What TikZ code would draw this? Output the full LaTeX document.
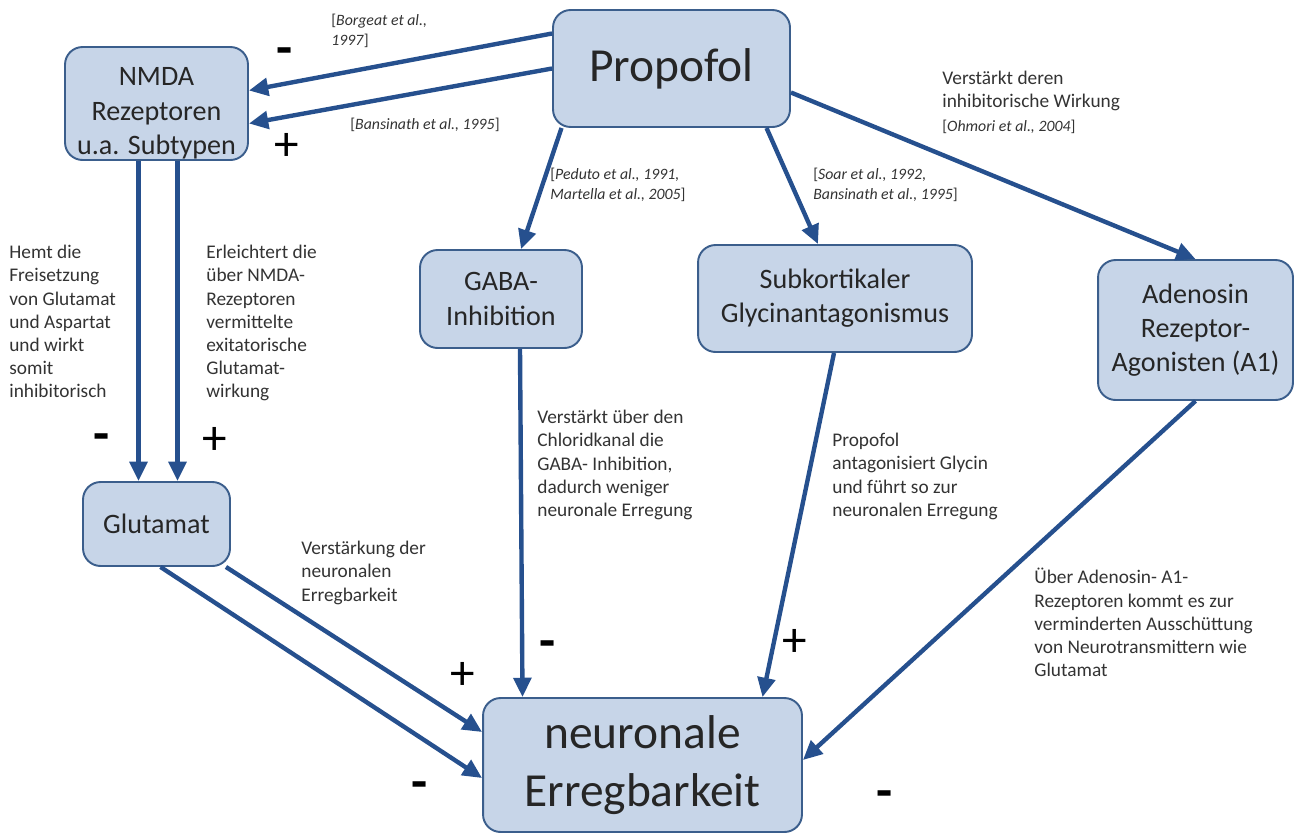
\documentclass[tikz,border=0pt]{standalone}
\usepackage{fontspec}
\setmainfont{Carlito}
\usetikzlibrary{positioning, arrows.meta, calc}
\definecolor{boxfill}{HTML}{C7D5E8}
\definecolor{boxline}{HTML}{3B5E8C}
\definecolor{arrowblue}{HTML}{26508E}
\definecolor{textgray}{HTML}{333333}

\begin{document}
\begin{tikzpicture}[
        x=0.02cm, y=-0.02cm,
        >={Triangle[length=11pt, width=10pt]},
        box/.style={draw=boxline, fill=boxfill, line width=1.1pt, rounded corners=10pt, align=center, inner sep=2pt, text=black!85, font=\fontsize{16}{19.5}\selectfont},
        bigbox/.style={box, font=\fontsize{27}{33}\selectfont},
        flowarrow/.style={->, draw=arrowblue, line width=2.5pt},
        note/.style={align=left, inner sep=0pt, anchor=north west, text=textgray, font=\fontsize{11}{13.2}\selectfont},
        cite/.style={note, font=\fontsize{9}{11.5}\selectfont},
        signplus/.style={inner sep=0pt, font=\fontsize{28}{28}\selectfont},
        signminus/.style={inner sep=0pt, font=\bfseries\fontsize{30}{30}\selectfont},
    ]
    \useasboundingbox (0,0) rectangle (1297,835);

        % Draw the boxes
        \node[bigbox, minimum width=4.74cm, minimum height=2.34cm] (prop) at (671.5,68.5) {Propofol};
        \node[box, minimum width=3.66cm, minimum height=2.26cm] (nmda) at (156.5,103.5)
            {\raisebox{-5.5pt}[\height][\depth]{\begin{tabular}{@{}c@{}}NMDA\\Rezeptoren\\u.a. Subtypen\end{tabular}}};
        \node[box, minimum width=3.24cm, minimum height=1.96cm] (gaba) at (501,299) {GABA-\\Inhibition};
        \node[box, minimum width=5.48cm, minimum height=2.14cm] (glyc) at (835,298.5) {Subkortikaler\\Glycinantagonismus};
        \node[box, minimum width=3.9cm, minimum height=2.8cm] (aden) at (1195.5,330) {Adenosin\\Rezeptor-\\Agonisten (A1)};
        \node[box, minimum width=2.94cm, minimum height=1.68cm] (glut) at (156.5,524) {Glutamat};
        \node[bigbox, minimum width=6.38cm, minimum height=2.68cm] (neur) at (642.5,765) {neuronale\\Erregbarkeit};

        % Arrows leaving Propofol
        \draw[flowarrow] ($(prop.west)+(0,-35)$) -- ($(nmda.east)+(0,-13)$);
        \draw[flowarrow] (prop.west) -- ($(nmda.east)+(0,20)$);
        \draw[flowarrow] ($(prop.south)+(-110,0)$) -- ($(gaba.north)+(20,0)$);
        \draw[flowarrow] ($(prop.south)+(95,0)$) -- ($(glyc.north)+(-17,0)$);
        \draw[flowarrow] ($(prop.east)+(0,24)$) -- (aden.north);

        % NMDA to Glutamat
        \foreach \dx in {-18,21}
            \draw[flowarrow] ($(nmda.south)+(\dx,0)$) -- ($(glut.north)+(\dx,0)$);

        % Arrows into neuronale Erregbarkeit
        \draw[flowarrow] ($(glut.south east)+(-5,0)$) -- ($(neur.west)+(0,-33)$);
        \draw[flowarrow] ($(glut.south)+(4,0)$) -- ($(neur.west)+(0,13)$);
        \draw[flowarrow] ($(gaba.south)+(19,0)$) -- ($(neur.north)+(-120,0)$);
        \draw[flowarrow] ($(glyc.south)+(-1,0)$) -- ($(neur.north)+(120,0)$);
        \draw[flowarrow] (aden.south) -- ($(neur.east)+(0,-5)$);

        % References
        \node[cite] (c-borgeat) at (331,14) {[\textit{Borgeat et al.,}\\\textit{1997}]};
        \node[cite, anchor=west] (c-bansinath) at (350,125) {[\textit{Bansinath et al., 1995}]};
        \node[cite] (c-peduto) at (550,168) {[\textit{Peduto et al., 1991,}\\\textit{Martella et al., 2005}]};
        \node[cite] (c-soar) at (813,168) {[\textit{Soar et al., 1992,}\\\textit{Bansinath et al., 1995}]};

        % Explanations
        \node[note] (n-ohmori) at (942,71) {Verstärkt deren\\inhibitorische Wirkung\\[0pt]{\fontsize{9}{11}\selectfont[\textit{Ohmori et al., 2004}]}};
        \node[note] (n-hemt) at (9,245) {Hemt die\\Freisetzung\\von Glutamat\\und Aspartat\\und wirkt\\somit\\inhibitorisch};
        \node[note] (n-erleichtert) at (206,245) {Erleichtert die\\über NMDA-\\Rezeptoren\\vermittelte\\exitatorische\\Glutamat-\\wirkung};
        \node[note] (n-gaba) at (537,410) {Verstärkt über den\\Chloridkanal die\\GABA- Inhibition,\\dadurch weniger\\neuronale Erregung};
        \node[note] (n-glyc) at (832,433) {Propofol\\antagonisiert Glycin\\und führt so zur\\neuronalen Erregung};
        \node[note] (n-glut) at (301,541) {Verstärkung der\\neuronalen\\Erregbarkeit};
        \node[note] (n-aden) at (1034,568) {Über Adenosin- A1-\\Rezeptoren kommt es zur\\verminderten Ausschüttung\\von Neurotransmittern wie\\Glutamat};

        % Signs
        \foreach \pos [count=\i] in {{(287,147)}, {(215,441)}, {(463,676)}, {(795,643)}}
            \node[signplus] (p-\i) at \pos {+};
        \foreach \pos [count=\i] in {{(285,57)}, {(102,443)}, {(548,650)}, {(420,791)}, {(885,800)}}
            \node[signminus] (m-\i) at \pos {-};
    \end{tikzpicture}
\end{document}
